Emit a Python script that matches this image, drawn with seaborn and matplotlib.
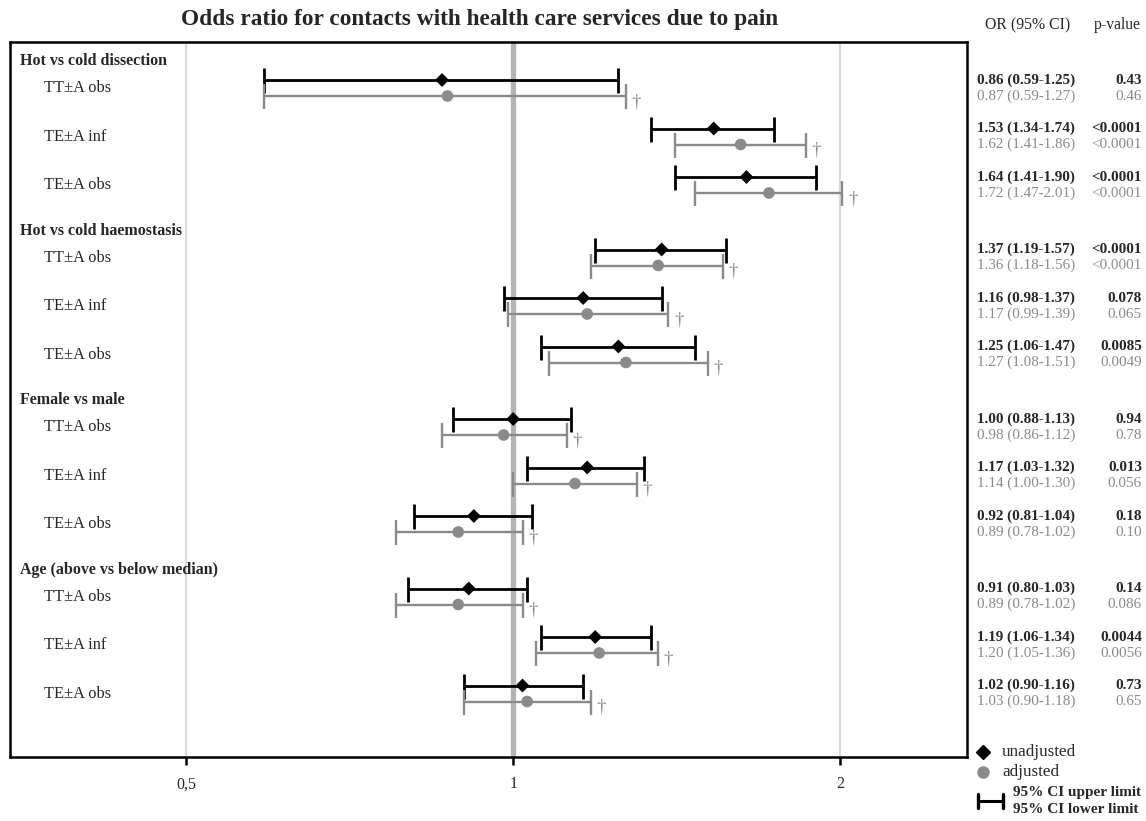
import numpy as np
import pandas as pd
import seaborn as sns
import matplotlib
matplotlib.use('Agg')
import matplotlib.pyplot as plt
import matplotlib.transforms as mtransforms
from matplotlib.lines import Line2D

# --- data ---
groups = ["Hot vs cold dissection", "Hot vs cold haemostasis",
          "Female vs male", "Age (above vs below median)"]
rows = ["TT±A obs", "TE±A inf", "TE±A obs"]

or_unadj = [0.86, 1.53, 1.64, 1.37, 1.16, 1.25, 1.00, 1.17, 0.92, 0.91, 1.19, 1.02]
lo_unadj = [0.59, 1.34, 1.41, 1.19, 0.98, 1.06, 0.88, 1.03, 0.81, 0.80, 1.06, 0.90]
hi_unadj = [1.25, 1.74, 1.90, 1.57, 1.37, 1.47, 1.13, 1.32, 1.04, 1.03, 1.34, 1.16]
p_unadj = ["0.43", "<0.0001", "<0.0001", "<0.0001", "0.078", "0.0085",
           "0.94", "0.013", "0.18", "0.14", "0.0044", "0.73"]

or_adj = [0.87, 1.62, 1.72, 1.36, 1.17, 1.27, 0.98, 1.14, 0.89, 0.89, 1.20, 1.03]
lo_adj = [0.59, 1.41, 1.47, 1.18, 0.99, 1.08, 0.86, 1.00, 0.78, 0.78, 1.05, 0.90]
hi_adj = [1.27, 1.86, 2.01, 1.56, 1.39, 1.51, 1.12, 1.30, 1.02, 1.02, 1.36, 1.18]
p_adj = ["0.46", "<0.0001", "<0.0001", "<0.0001", "0.065", "0.0049",
         "0.78", "0.056", "0.10", "0.086", "0.0056", "0.65"]

x_ticks = [0.5, 1, 2]
x_ticklabels = ["0,5", "1", "2"]

GRAY = '#8a8a8a'
W, H = 1146, 821

sns.set_theme(style="white")
plt.rcParams['font.family'] = ['Liberation Serif', 'DejaVu Serif']

# layout in pixel-like units (y grows downwards)
centers = []
headers = []
for g in range(len(groups)):
    first = 88 + g * 169.5
    headers.append(first - 27)
    for r in range(len(rows)):
        centers.append(first + r * 48.5)
centers = np.array(centers)
y_un = centers - 8
y_ad = centers + 8

df = pd.DataFrame({
    'OR': or_unadj + or_adj,
    'y': list(y_un) + list(y_ad),
    'model': ['unadjusted'] * 12 + ['adjusted'] * 12,
})

fig = plt.figure(figsize=(W / 100, H / 100), dpi=100)
ax = fig.add_axes([10 / W, 1 - 757 / H, (967 - 10) / W, (757 - 42) / H])
ax.set_xscale('log')
ax.set_xlim(0.344, 2.618)
ax.set_ylim(757, 42)

# reference lines
ax.axvline(1, color='#b4b4b4', lw=3.8, zorder=0)
ax.axvline(0.5, color='#dadada', lw=1.6, zorder=0)
ax.axvline(2, color='#dadada', lw=1.6, zorder=0)

# CIs
oa, la, ha = map(np.array, (or_unadj, lo_unadj, hi_unadj))
ob, lb, hb = map(np.array, (or_adj, lo_adj, hi_adj))
ax.errorbar(oa, y_un, xerr=[oa - la, ha - oa], fmt='none', ecolor='black',
            elinewidth=2.0, capsize=9, capthick=2.0, zorder=2)
ax.errorbar(ob, y_ad, xerr=[ob - lb, hb - ob], fmt='none', ecolor=GRAY,
            elinewidth=1.7, capsize=9, capthick=1.7, zorder=2)

sns.scatterplot(data=df, x='OR', y='y', hue='model', style='model',
                palette={'unadjusted': 'black', 'adjusted': GRAY},
                markers={'unadjusted': 'D', 'adjusted': 'o'},
                size='model', sizes={'unadjusted': 50, 'adjusted': 70},
                linewidth=0, legend=False, ax=ax, zorder=3)

# daggers next to adjusted CIs
for x, y in zip(hb, y_ad):
    ax.annotate('†', xy=(x, y), xytext=(4, -4), textcoords='offset points',
                color=GRAY, fontsize=13.5, va='center', ha='left')

# labels inside the plot
trans_left = mtransforms.blended_transform_factory(ax.transAxes, ax.transData)
for g, name in enumerate(groups):
    ax.text(10 / 957, headers[g], name, transform=trans_left, fontsize=11.5,
            fontweight='bold', va='center', ha='left')
    for r, lab in enumerate(rows):
        ax.text(34 / 957, centers[g * 3 + r], lab, transform=trans_left,
                fontsize=11.8, va='center', ha='left')

# right-hand columns
trans_right = mtransforms.blended_transform_factory(fig.transFigure, ax.transData)
for i in range(12):
    ax.text(977 / W, y_un[i], f"{or_unadj[i]:.2f} ({lo_unadj[i]:.2f}-{hi_unadj[i]:.2f})",
            transform=trans_right, fontsize=10.9, fontweight='bold',
            va='center', ha='left', clip_on=False)
    ax.text(977 / W, y_ad[i], f"{or_adj[i]:.2f} ({lo_adj[i]:.2f}-{hi_adj[i]:.2f})",
            transform=trans_right, fontsize=10.9, color=GRAY,
            va='center', ha='left', clip_on=False)
    ax.text(1142 / W, y_un[i], p_unadj[i], transform=trans_right, fontsize=10.9,
            fontweight='bold', va='center', ha='right', clip_on=False)
    ax.text(1142 / W, y_ad[i], p_adj[i], transform=trans_right, fontsize=10.9,
            color=GRAY, va='center', ha='right', clip_on=False)

fig.text(985 / W, 1 - 25 / H, "OR (95% CI)", fontsize=11.3, ha='left', va='center')
fig.text(1141 / W, 1 - 25 / H, "p-value", fontsize=11.3, ha='right', va='center')
fig.text(480 / W, 1 - 19 / H, "Odds ratio for contacts with health care services due to pain",
         fontsize=16.8, fontweight='bold', ha='center', va='center')

# axes styling
ax.set_xticks(x_ticks)
ax.set_xticklabels(x_ticklabels, fontsize=11.5)
ax.xaxis.set_minor_locator(matplotlib.ticker.NullLocator())
ax.tick_params(axis='x', bottom=True, length=6, width=1.8, color='black', pad=8)
ax.set_yticks([])
ax.set_xlabel('')
ax.set_ylabel('')
for s in ax.spines.values():
    s.set_visible(True)
    s.set_color('black')
    s.set_linewidth(1.8)

# legend outside the frame
fig.add_artist(Line2D([983 / W], [1 - 752 / H], marker='D', color='black',
                      markersize=7, linestyle='none', transform=fig.transFigure))
fig.text(1002 / W, 1 - 752 / H, "unadjusted", fontsize=12.3, va='center')
fig.add_artist(Line2D([983 / W], [1 - 772 / H], marker='o', color=GRAY,
                      markersize=8, linestyle='none', transform=fig.transFigure))
fig.text(1002 / W, 1 - 772 / H, "adjusted", fontsize=12.3, va='center')
fig.add_artist(Line2D([978 / W, 1003 / W], [1 - 801 / H, 1 - 801 / H], color='black',
                      lw=2.2, transform=fig.transFigure))
for xc in (978, 1003):
    fig.add_artist(Line2D([xc / W, xc / W], [1 - 794 / H, 1 - 808 / H], color='black',
                          lw=2.4, transform=fig.transFigure))
fig.text(1013 / W, 1 - 792 / H, "95% CI upper limit", fontsize=11, fontweight='bold', va='center')
fig.text(1013 / W, 1 - 809 / H, "95% CI lower limit", fontsize=11, fontweight='bold', va='center')

fig.savefig('out.png', dpi=100)
